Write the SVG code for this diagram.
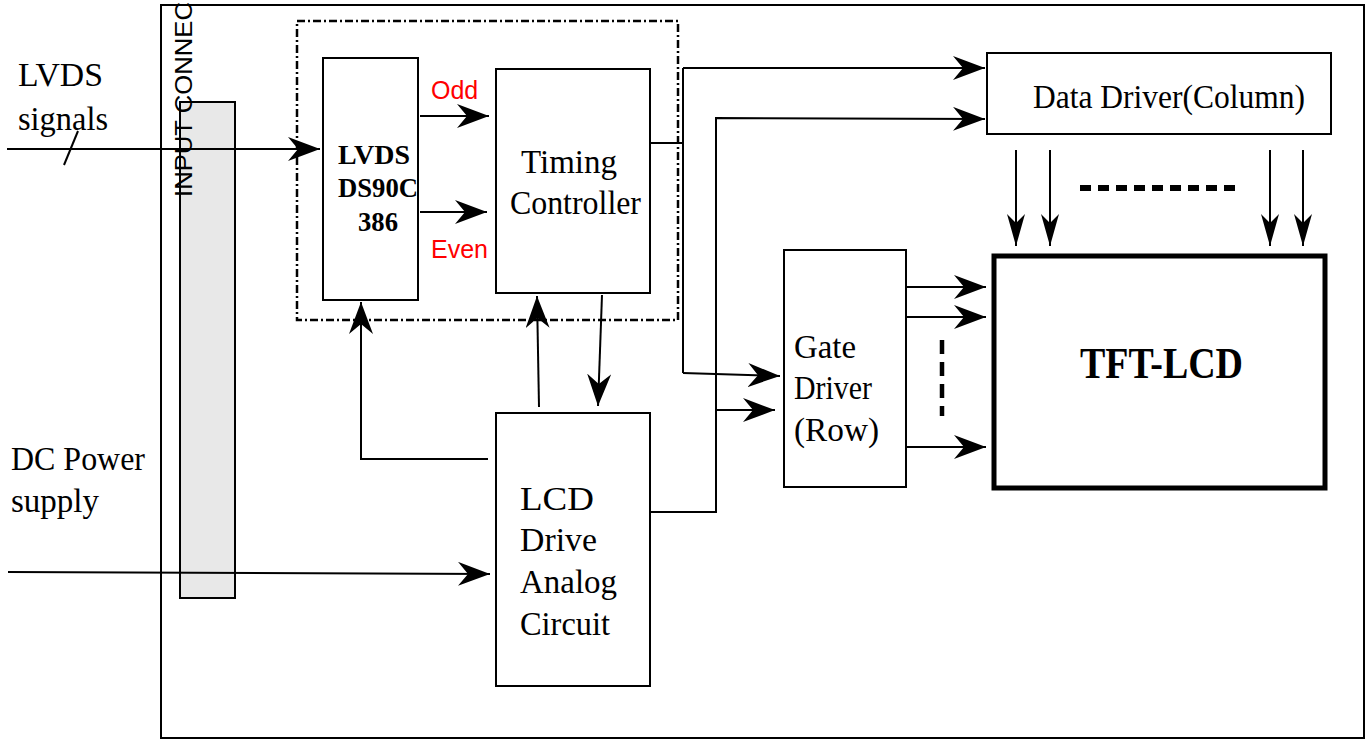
<svg xmlns="http://www.w3.org/2000/svg" width="1370" height="740" viewBox="0 0 1370 740">
<style>
.box{fill:#fff;stroke:#000;stroke-width:2}
.ln{fill:none;stroke:#000;stroke-width:2}
.t{font-family:"Liberation Serif","Times New Roman",serif;font-size:33px;fill:#000}
.tb{font-family:"Liberation Serif","Times New Roman",serif;font-weight:bold;fill:#000}
.s{font-family:"Liberation Sans",Arial,sans-serif;fill:#000}
.red{font-family:"Liberation Sans",Arial,sans-serif;font-size:25px;fill:#ff0000}
</style>
<defs>
<marker id="ah" markerUnits="userSpaceOnUse" viewBox="0 0 32 24" refX="32" refY="12" markerWidth="32" markerHeight="24" orient="auto">
<path d="M0,0 L32,12 L0,24 L10,12 z" fill="#000"/>
</marker>
<marker id="ahn" markerUnits="userSpaceOnUse" viewBox="0 0 32 18" refX="32" refY="9" markerWidth="32" markerHeight="18" orient="auto">
<path d="M0,0 L32,9 L0,18 L9,9 z" fill="#000"/>
</marker>
</defs>
<rect width="1370" height="740" fill="#fff"/>

<g id="frame">
<rect x="161" y="5" width="1203" height="733" class="box" fill="none"/>
</g>

<g id="input-connector">
<rect x="180" y="102" width="55" height="496" fill="#e8e8e8" stroke="#000" stroke-width="2"/>
<text class="s" font-size="24" transform="translate(192,197) rotate(-90)" textLength="195" lengthAdjust="spacingAndGlyphs">INPUT CONNEC</text>
</g>

<g id="dashed-group">
<rect x="297" y="21" width="381" height="299" fill="none" stroke="#000" stroke-width="2.5" stroke-dasharray="8,3,2,3"/>
</g>

<g id="labels-left">
<text class="t" x="18" y="86" textLength="85" lengthAdjust="spacingAndGlyphs">LVDS</text>
<text class="t" x="18" y="130" textLength="90" lengthAdjust="spacingAndGlyphs">signals</text>
<text class="t" x="11" y="470" textLength="134" lengthAdjust="spacingAndGlyphs">DC Power</text>
<text class="t" x="11" y="512" textLength="88" lengthAdjust="spacingAndGlyphs">supply</text>
</g>

<g id="lvds">
<rect x="323" y="58" width="95" height="242" class="box"/>
<text class="tb" font-size="28" x="338" y="164" textLength="72" lengthAdjust="spacingAndGlyphs">LVDS</text>
<text class="tb" font-size="28" x="338" y="197" textLength="80" lengthAdjust="spacingAndGlyphs">DS90C</text>
<text class="tb" font-size="28" x="358" y="231" textLength="40" lengthAdjust="spacingAndGlyphs">386</text>
</g>

<g id="timing">
<rect x="496" y="69" width="154" height="224" class="box"/>
<text class="t" font-size="34" x="521" y="173" textLength="96" lengthAdjust="spacingAndGlyphs">Timing</text>
<text class="t" font-size="34" x="510" y="214" textLength="131" lengthAdjust="spacingAndGlyphs">Controller</text>
</g>

<g id="data-driver">
<rect x="987" y="53" width="344" height="81" class="box"/>
<text class="t" x="1033" y="108" textLength="272" lengthAdjust="spacingAndGlyphs">Data Driver(Column)</text>
</g>

<g id="gate-driver">
<rect x="784" y="250" width="122" height="237" class="box"/>
<text class="t" x="794" y="358" textLength="62" lengthAdjust="spacingAndGlyphs">Gate</text>
<text class="t" x="794" y="399" textLength="78" lengthAdjust="spacingAndGlyphs">Driver</text>
<text class="t" x="794" y="441" textLength="85" lengthAdjust="spacingAndGlyphs">(Row)</text>
</g>

<g id="tft-lcd">
<rect x="994" y="256" width="331" height="232" fill="#fff" stroke="#000" stroke-width="5"/>
<text class="tb" font-size="44" x="1080" y="378" textLength="163" lengthAdjust="spacingAndGlyphs">TFT-LCD</text>
</g>

<g id="lcd-drive">
<rect x="496" y="413" width="154" height="273" class="box"/>
<text class="t" font-size="34" x="520" y="510" textLength="74" lengthAdjust="spacingAndGlyphs">LCD</text>
<text class="t" font-size="34" x="520" y="551" textLength="77" lengthAdjust="spacingAndGlyphs">Drive</text>
<text class="t" font-size="34" x="520" y="593" textLength="97" lengthAdjust="spacingAndGlyphs">Analog</text>
<text class="t" font-size="34" x="520" y="635" textLength="90" lengthAdjust="spacingAndGlyphs">Circuit</text>
</g>

<g id="signal-labels">
<text class="red" x="431" y="99">Odd</text>
<text class="red" x="431" y="258">Even</text>
</g>

<g id="connectors">
<line x1="7" y1="149" x2="320" y2="149" class="ln" marker-end="url(#ah)"/>
<line x1="64" y1="165" x2="78" y2="131" class="ln"/>
<line x1="420" y1="116" x2="489" y2="116" class="ln" marker-end="url(#ah)"/>
<line x1="420" y1="212" x2="487" y2="212" class="ln" marker-end="url(#ah)"/>
<polyline points="650,143 683,143" class="ln"/>
<polyline points="683,68 683,373" class="ln"/>
<polyline points="683,68 985,68" class="ln" marker-end="url(#ah)"/>
<polyline points="683,373 780,376" class="ln" marker-end="url(#ah)"/>
<polyline points="650,512 716,512 716,118 985,119" class="ln" marker-end="url(#ah)"/>
<line x1="716" y1="410" x2="775" y2="410" class="ln" marker-end="url(#ah)"/>
<line x1="602" y1="295" x2="598" y2="406" class="ln" marker-end="url(#ah)"/>
<line x1="539" y1="407" x2="537" y2="296" class="ln" marker-end="url(#ah)"/>
<polyline points="488,459 361,459 361,302" class="ln" marker-end="url(#ah)"/>
<polyline points="8,572 490,574" class="ln" marker-end="url(#ah)"/>
<line x1="1016" y1="150" x2="1016" y2="246" class="ln" marker-end="url(#ahn)"/>
<line x1="1050" y1="150" x2="1050" y2="246" class="ln" marker-end="url(#ahn)"/>
<line x1="1270" y1="150" x2="1270" y2="246" class="ln" marker-end="url(#ahn)"/>
<line x1="1303" y1="150" x2="1303" y2="246" class="ln" marker-end="url(#ahn)"/>
<line x1="1080" y1="188" x2="1240" y2="188" stroke="#000" stroke-width="6" stroke-dasharray="11,7"/>
<line x1="906" y1="287" x2="986" y2="287" class="ln" marker-end="url(#ah)"/>
<line x1="906" y1="317" x2="986" y2="317" class="ln" marker-end="url(#ah)"/>
<line x1="906" y1="447" x2="986" y2="447" class="ln" marker-end="url(#ah)"/>
<line x1="942" y1="340" x2="942" y2="416" stroke="#000" stroke-width="4.5" stroke-dasharray="14,8"/>
</g>
</svg>
